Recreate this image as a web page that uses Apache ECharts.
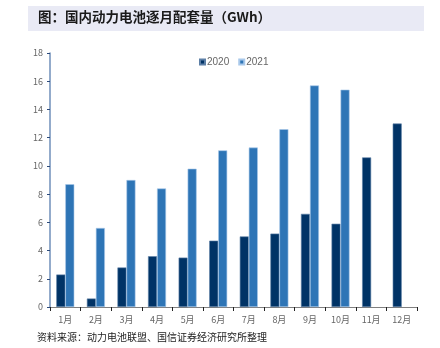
<!DOCTYPE html>
<html><head><meta charset="utf-8">
<script src="https://cdn.jsdelivr.net/npm/echarts@6/dist/echarts.min.js"></script>
<style>html,body{margin:0;padding:0;background:#fff}#c{width:440px;height:348px}</style>
</head><body><div id="c"></div>
<script>
const categories = ['1月','2月','3月','4月','5月','6月','7月','8月','9月','10月','11月','12月'];
const s2020 = [2.3,0.6,2.8,3.6,3.5,4.7,5.0,5.2,6.6,5.9,10.6,13.0];
const s2021 = [8.7,5.6,9.0,8.4,9.8,11.1,11.3,12.6,15.7,15.4,null,null];
const yTicks = {min:0,max:18,interval:2};
const titleText = '图：国内动力电池逐月配套量（GWh）';
const sourceText = '资料来源：动力电池联盟、国信证券经济研究所整理';

const chart = echarts.init(document.getElementById('c'), null, {renderer:'canvas'});
const ff = '"Noto Sans CJK SC", "Liberation Sans", sans-serif';
chart.setOption({
  animation:false,
  textStyle:{fontFamily:ff},
  graphic:[
    {type:'rect', left:28, top:6, shape:{width:396, height:25}, style:{fill:'#e9eaf5'}},
    {type:'text', left:38, top:10, style:{text:titleText, font:'bold 13.5px '+ff, fill:'#1a1a1a'}},
    {type:'text', left:37, top:332, style:{text:sourceText, font:'10px '+ff, fill:'#222'}}
  ],
  legend:{
    top:52, left:194, itemWidth:5, itemHeight:5, itemGap:9,
    icon:'rect',
    textStyle:{fontSize:10, color:'#666', fontFamily:'"Liberation Sans", sans-serif', padding:[0,0,0,-3]},
    data:['2020','2021']
  },
  grid:{left:50, right:23, top:53, bottom:41},
  xAxis:{
    type:'category', data:categories,
    axisLine:{lineStyle:{color:'#7f7f7f', width:1}},
    axisTick:{show:true, length:4, lineStyle:{color:'#222'}},
    axisLabel:{fontSize:9, color:'#666', margin:8},
    splitLine:{show:false}
  },
  yAxis:{
    type:'value', min:yTicks.min, max:yTicks.max, interval:yTicks.interval,
    axisLine:{show:true, lineStyle:{color:'#6f8fba', width:1.5}},
    axisTick:{show:true, length:3, lineStyle:{color:'#2c4a7a'}},
    axisLabel:{fontSize:9, color:'#666', margin:7},
    splitLine:{show:false}
  },
  series:[
    {name:'2020', type:'bar', data:s2020, barWidth:9, barGap:'0%',
     itemStyle:{color:'#003366', borderColor:'#5c7fa6', borderWidth:0.6}},
    {name:'2021', type:'bar', data:s2021, barWidth:9,
     itemStyle:{color:'#2e75b6', borderColor:'#a8c8ea', borderWidth:0.6}}
  ]
});
</script></body></html>
